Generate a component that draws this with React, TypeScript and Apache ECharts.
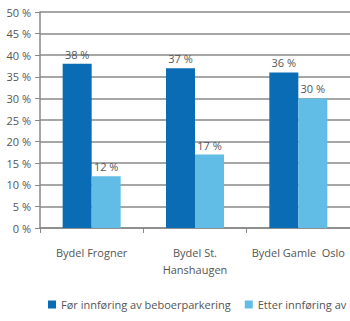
import React, { useEffect, useRef } from "react";
import * as echarts from "echarts";

const categories = ["Bydel Frogner", "Bydel St.\nHanshaugen", "Bydel Gamle  Oslo"];
const seriesNames = ["Før innføring av beboerparkering", "Etter innføring av beboerparkering"];
const before = [38, 37, 36];
const after = [12, 17, 30];
const yTicks = [0, 5, 10, 15, 20, 25, 30, 35, 40, 45, 50];

const FONT = "'Open Sans', sans-serif";
const TXT = "#555";

export default function App() {
  const ref = useRef<HTMLDivElement>(null);
  useEffect(() => {
    if (!ref.current) return;
    const chart = echarts.init(ref.current, undefined, { renderer: "svg" });
    const label = {
      show: true,
      position: "top" as const,
      distance: 4,
      formatter: (p: any) => `${p.value} %`,
      color: TXT,
      fontSize: 11,
      fontFamily: FONT,
    };
    chart.setOption({
      animation: false,
      backgroundColor: "#fff",
      grid: { left: 40, right: 0, top: 12, bottom: 93 },
      legend: {
        left: 43,
        top: 294,
        width: 800,
        itemWidth: 8,
        itemHeight: 8,
        itemGap: 14,
        icon: "rect",
        textStyle: { color: TXT, fontSize: 11, fontFamily: FONT },
        data: seriesNames,
      },
      xAxis: {
        type: "category",
        data: categories,
        axisLine: { lineStyle: { color: "#888", width: 1.5 } },
        axisTick: { show: true, length: 5, lineStyle: { color: "#888" } },
        axisLabel: { color: TXT, fontSize: 11, fontFamily: FONT, margin: 16, lineHeight: 17, interval: 0 },
      },
      yAxis: {
        type: "value",
        min: 0,
        max: 50,
        interval: 5,
        axisLine: { show: true, lineStyle: { color: "#888", width: 1.5 } },
        axisTick: { show: true, length: 5, lineStyle: { color: "#888" } },
        splitLine: { lineStyle: { color: "#888", width: 1.5 } },
        axisLabel: {
          color: TXT,
          fontSize: 11,
          fontFamily: FONT,
          margin: 9,
          formatter: (v: number) => (yTicks.includes(v) ? `${v} %` : ""),
        },
      },
      series: [
        {
          name: seriesNames[0],
          type: "bar",
          data: before,
          barWidth: 29,
          barGap: "0%",
          itemStyle: { color: "#0a6cb5" },
          label,
        },
        {
          name: seriesNames[1],
          type: "bar",
          data: after,
          barWidth: 29,
          barGap: "0%",
          itemStyle: { color: "#62bde6" },
          label,
        },
      ],
    });
    return () => chart.dispose();
  }, []);
  return <div ref={ref} style={{ width: 350, height: 321, position: "absolute", left: 0, top: 0 }} />;
}
